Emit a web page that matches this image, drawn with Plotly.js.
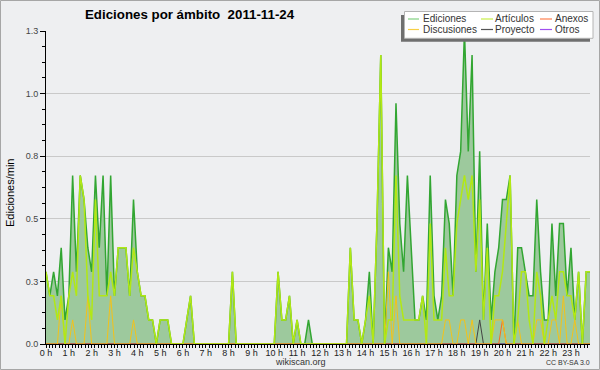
<!DOCTYPE html>
<html>
<head>
<meta charset="utf-8">
<script src="https://cdn.plot.ly/plotly-3.0.1.min.js"></script>
<style>
  html, body { margin: 0; padding: 0; background: #eeeff1; }
  #chart { width: 600px; height: 370px; }
</style>
</head>
<body>
<div id="chart"></div>
<script>
// ---- Data: edits per minute, one value every 10 minutes (144 buckets) ----
const ediciones = [
  0.3,0.2,0.3,0.2,0.4,0.1,0.2,0.7,0.3,0.7,0.6,0.4,
  0.3,0.7,0.4,0.7,0.2,0.7,0.2,0.4,0.4,0.4,0.2,0.6,
  0.3,0.2,0.2,0.1,0.1,0,0.1,0.1,0.1,0,0,0,
  0,0.1,0.2,0,0,0,0,0,0,0,0,0,
  0,0.3,0,0,0,0,0,0,0,0,0,0,
  0,0.3,0.1,0.1,0.2,0,0.1,0,0,0.1,0,0,
  0,0,0,0,0,0,0,0,0.4,0.1,0.1,0,
  0.1,0.3,0,0.5,1.2,0,0.4,0.3,1.0,0.5,0.3,0.7,
  0.4,0.1,0.1,0.2,0.1,0.7,0.2,0.1,0.2,0.6,0.5,0.2,
  0.7,0.8,1.3,0.8,1.2,0.3,0.8,0.1,0.5,0.1,0.3,0.4,
  0.6,0.6,0.7,0,0.4,0.4,0.3,0.2,0.2,0.6,0.3,0.1,
  0.1,0.5,0.2,0.5,0.5,0.2,0.4,0.1,0.3,0,0.3,0.3
];
const articulos = [
  0.3,0.2,0.2,0.1,0.2,0,0.2,0.3,0.2,0.7,0.6,0.2,
  0.1,0.6,0.2,0.2,0.2,0.3,0.2,0.4,0.4,0.4,0.2,0.4,
  0.3,0.2,0.2,0.1,0.1,0,0.1,0.1,0.1,0,0,0,
  0,0.1,0.2,0,0,0,0,0,0,0,0,0,
  0,0.3,0,0,0,0,0,0,0,0,0,0,
  0,0.3,0.1,0.1,0.2,0,0.1,0,0,0,0,0,
  0,0,0,0,0,0,0,0,0.4,0.1,0.1,0,
  0.1,0.2,0,0.5,1.2,0,0.1,0.1,0.7,0.2,0.1,0.1,
  0.1,0.1,0.1,0.2,0,0.5,0.1,0.1,0.1,0.4,0.2,0.2,
  0.5,0.6,0.7,0.6,0.7,0.3,0.6,0.1,0.4,0,0.2,0.2,
  0.3,0.5,0.7,0,0.1,0.3,0.3,0.1,0,0.3,0.2,0,
  0.1,0.2,0.1,0.3,0.3,0.2,0.2,0.1,0.3,0,0.3,0.3
];
const discusiones = [
  0,0,0,0,0.2,0,0,0.1,0,0,0,0.2,
  0,0,0,0,0,0.2,0,0,0,0,0,0.1,
  0,0,0,0,0,0,0,0,0,0,0,0,
  0,0,0,0,0,0,0,0,0,0,0,0,
  0,0,0,0,0,0,0,0,0,0,0,0,
  0,0,0,0,0,0,0,0,0,0,0,0,
  0,0,0,0,0,0,0,0,0,0,0,0,
  0,0,0,0,0,0,0.3,0,0.2,0,0,0,
  0,0,0,0,0,0,0,0,0,0.1,0.1,0,
  0,0.1,0.1,0,0.1,0,0,0,0,0,0.1,0.1,
  0.1,0,0,0,0.1,0,0,0,0,0.1,0.1,0,
  0,0.1,0.1,0,0.2,0,0,0.1,0,0,0,0
];
const anexos = [
  0,0,0,0,0,0,0,0,0,0,0,0,
  0,0,0,0,0,0,0,0,0,0,0,0,
  0,0,0,0,0,0,0,0,0,0,0,0,
  0,0,0,0,0,0,0,0,0,0,0,0,
  0,0,0,0,0,0,0,0,0,0,0,0,
  0,0,0,0,0,0,0,0,0,0,0,0,
  0,0,0,0,0,0,0,0,0,0,0,0,
  0,0,0,0,0,0,0,0,0,0,0,0,
  0,0,0,0,0,0,0,0,0,0,0,0,
  0,0,0,0,0,0,0,0,0,0,0,0,
  0.1,0,0,0,0,0,0,0,0,0,0,0,
  0,0,0,0,0,0,0,0,0,0,0,0
];
const proyecto = [
  0,0,0,0,0,0,0,0,0,0,0,0,
  0,0,0,0,0,0,0,0,0,0,0,0,
  0,0,0,0,0,0,0,0,0,0,0,0,
  0,0,0,0,0,0,0,0,0,0,0,0,
  0,0,0,0,0,0,0,0,0,0,0,0,
  0,0,0,0,0,0,0,0,0,0,0,0,
  0,0,0,0,0,0,0,0,0,0,0,0,
  0,0,0,0,0,0,0,0,0,0,0,0,
  0,0,0,0,0,0,0,0,0,0,0,0,
  0,0,0,0,0,0,0.1,0,0,0,0,0,
  0,0,0,0,0,0,0,0,0,0,0,0,
  0,0,0,0,0,0,0,0,0,0,0,0
];
const otros = [
  0,0,0,0,0,0,0,0,0,0,0,0,
  0,0,0,0,0,0,0,0,0,0,0,0,
  0,0,0,0,0,0,0,0,0,0,0,0,
  0,0,0,0,0,0,0,0,0,0,0,0,
  0,0,0,0,0,0,0,0,0,0,0,0,
  0,0,0,0,0,0,0,0,0,0,0,0,
  0,0,0,0,0,0,0,0,0,0,0,0,
  0,0,0,0,0,0,0,0,0,0,0,0,
  0,0,0,0,0,0,0,0,0,0,0,0,
  0,0,0,0,0,0,0,0,0,0,0,0,
  0,0,0,0,0,0,0,0,0,0,0,0,
  0,0,0,0,0,0,0,0,0,0,0,0
];
const seriesNames = ["Ediciones","Artículos","Anexos","Discusiones","Proyecto","Otros"];
const hourTickVals = [0,1,2,3,4,5,6,7,8,9,10,11,12,13,14,15,16,17,18,19,20,21,22,23];
const hourTickText = ["0 h","1 h","2 h","3 h","4 h","5 h","6 h","7 h","8 h","9 h","10 h","11 h",
                      "12 h","13 h","14 h","15 h","16 h","17 h","18 h","19 h","20 h","21 h","22 h","23 h"];
const yTickVals = [0,0.26,0.52,0.78,1.04,1.3];
const yTickText = ["0.0","0.3","0.5","0.8","1.0","1.3"];
const titleText = "Ediciones por ámbito\u00a0 2011-11-24";
const yTitleText = "Ediciones/min";
const sourceText = "wikiscan.org";
const licenseText = "CC BY-SA 3.0";

// time axis: bucket index -> hour of day (10-minute buckets)
const hours = ediciones.map((_, i) => i / 6);
const xMax = hours[hours.length - 1];
const yMax = yTickVals[yTickVals.length - 1];

// minor tick positions (7 per hour on x, 4 per major step on y)
const xMinor = [];
for (let k = 0; k / 7 <= xMax + 1e-9; k++) xMinor.push(k / 7);
const yMinor = [];
for (let k = 0; k * 0.065 <= yMax + 1e-9; k++) yMinor.push(k * 0.065);

// ---- geometry helpers (pixels -> paper coords) ----
const W = 600, H = 370, ML = 46, MR = 10, MT = 31, MB = 26;
const PW = W - ML - MR, PH = H - MT - MB;
const px = x => (x - ML) / PW;
const py = y => (H - MB - y) / PH;
const FONT = "Liberation Sans, Arial, sans-serif";

const colors = {
  edLine: "#32a632", edFill: "#9dc99d",
  art: "#b2e814", disc: "#f3c21a", anex: "#ff6a1a", proy: "#444444", otros: "#9a40f0"
};
const legendColors = ["#80d080", "#c8ee48", "#ff8050", "#f7cf46", "#555555", "#a050f0"];

const traces = [
  {x: hours, y: ediciones, name: seriesNames[0], type: "scatter", mode: "lines",
   fill: "tozeroy", fillcolor: colors.edFill, line: {color: colors.edLine, width: 1.5}},
  {x: hours, y: otros, name: seriesNames[5], type: "scatter", mode: "lines",
   line: {color: colors.otros, width: 1}},
  {x: hours, y: proyecto, name: seriesNames[4], type: "scatter", mode: "lines",
   line: {color: colors.proy, width: 1}},
  {x: hours, y: anexos, name: seriesNames[2], type: "scatter", mode: "lines",
   line: {color: colors.anex, width: 1}},
  {x: hours, y: discusiones, name: seriesNames[3], type: "scatter", mode: "lines",
   line: {color: colors.disc, width: 1}},
  {x: hours, y: articulos, name: seriesNames[1], type: "scatter", mode: "lines",
   line: {color: colors.art, width: 1.5}}
];

// manual legend (3 columns x 2 rows)
const legCols = [[408, 419, 424], [481, 493, 496], [540, 552, 556]];
const legRows = [19, 29.5];
const shapes = [
  {type: "rect", xref: "paper", yref: "paper", x0: px(0.5), x1: px(599.5), y0: py(0.5), y1: py(369.5),
   line: {color: "#a6a6a6", width: 1}, fillcolor: "rgba(0,0,0,0)", layer: "below"},
  {type: "rect", xref: "paper", yref: "paper", x0: px(401), x1: px(590), y0: py(15), y1: py(41.7),
   line: {width: 0}, fillcolor: "#6f6f6f"},
  {type: "rect", xref: "paper", yref: "paper", x0: px(404.5), x1: px(593), y0: py(11.5), y1: py(38.3),
   line: {color: "#b4b4b4", width: 1}, fillcolor: "#ffffff"}
];
const annotations = [];
seriesNames.forEach((name, k) => {
  const c = legCols[k % 3], r = legRows[Math.floor(k / 3)];
  shapes.push({type: "line", xref: "paper", yref: "paper", x0: px(c[0]), x1: px(c[1]), y0: py(r), y1: py(r),
               line: {color: legendColors[k], width: 1.2}});
  annotations.push({xref: "paper", yref: "paper", x: px(c[2] - 2), y: py(r), xanchor: "left", yanchor: "middle",
                    text: name, showarrow: false, borderpad: 0,
                    font: {family: FONT, size: 10, color: "#333"}});
});
annotations.push({xref: "paper", yref: "paper", x: px(10), y: py(193), xanchor: "center", yanchor: "middle",
  text: yTitleText, textangle: -90, showarrow: false,
  font: {family: FONT, size: 11, color: "#000"}});
annotations.push({xref: "paper", yref: "paper", x: px(300.5), y: py(362), xanchor: "center", yanchor: "middle",
  text: sourceText, showarrow: false, borderpad: 0,
  font: {family: FONT, size: 9, color: "#333"}});
annotations.push({xref: "paper", yref: "paper", x: px(591), y: py(362.5), xanchor: "right", yanchor: "middle",
  text: licenseText, showarrow: false, borderpad: 0,
  font: {family: FONT, size: 7, color: "#333"}});

const layout = {
  width: W, height: H,
  margin: {l: ML, r: MR, t: MT, b: MB, pad: 0},
  paper_bgcolor: "#eeeff1", plot_bgcolor: "#eeeff1",
  showlegend: false,
  title: {text: titleText, x: 85 / W, xanchor: "left", xref: "container",
          y: 1 - 14 / H, yanchor: "middle", yref: "container",
          font: {family: FONT, size: 13.3, color: "#000", weight: "bold"}},
  xaxis: {
    range: [0, xMax], tickmode: "array", tickvals: hourTickVals, ticktext: hourTickText,
    ticks: "outside", ticklen: 3, tickcolor: "#000", tickwidth: 1, ticklabelstandoff: -3,
    showline: true, linecolor: "#000", linewidth: 1, showgrid: false, zeroline: false,
    tickfont: {family: FONT, size: 9, color: "#222"},
    minor: {tickmode: "array", tickvals: xMinor, ticks: "outside", ticklen: 3, tickcolor: "#000", showgrid: false},
    fixedrange: true
  },
  yaxis: {
    range: [0, yMax], tickmode: "array", tickvals: yTickVals, ticktext: yTickText,
    ticks: "outside", ticklen: 5, tickcolor: "#000", tickwidth: 1,
    showline: true, linecolor: "#000", linewidth: 1,
    showgrid: true, gridcolor: "#c9c9c9", gridwidth: 1, zeroline: false,
    tickfont: {family: FONT, size: 9, color: "#444"},
    minor: {tickmode: "array", tickvals: yMinor, ticks: "outside", ticklen: 3, tickcolor: "#000", showgrid: false},
    fixedrange: true
  },
  shapes: shapes,
  annotations: annotations
};

Plotly.newPlot("chart", traces, layout, {displayModeBar: false, staticPlot: true});
</script>
</body>
</html>
